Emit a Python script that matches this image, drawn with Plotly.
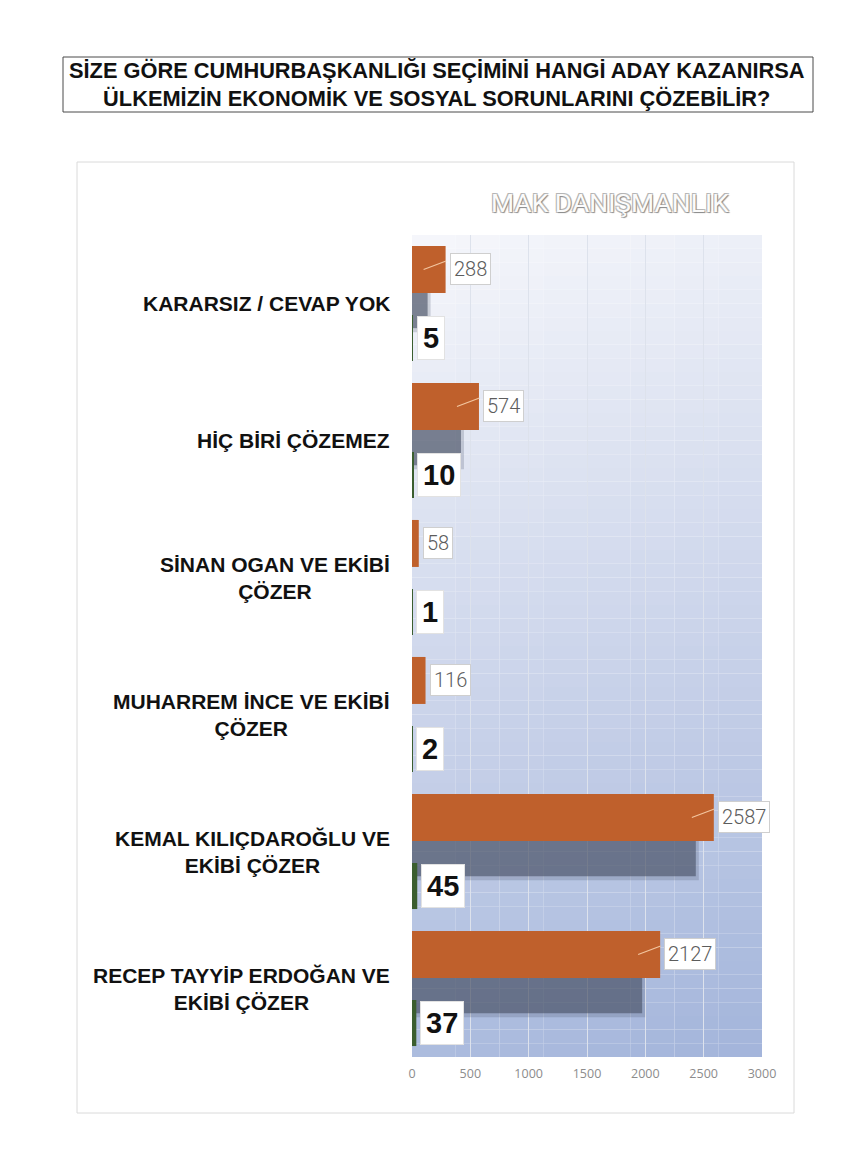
import plotly.graph_objects as go

# ---------------- data ----------------
categories = [
    "KARARSIZ / CEVAP YOK",
    "HİÇ BİRİ ÇÖZEMEZ",
    "SİNAN OGAN VE EKİBİ<br>ÇÖZER",
    "MUHARREM İNCE VE EKİBİ<br>ÇÖZER",
    "KEMAL KILIÇDAROĞLU VE<br>EKİBİ ÇÖZER",
    "RECEP TAYYİP ERDOĞAN VE<br>EKİBİ ÇÖZER",
]
counts = [288, 574, 58, 116, 2587, 2127]
percents = [5, 10, 1, 2, 45, 37]
x_ticks = [0, 500, 1000, 1500, 2000, 2500, 3000]

title_text = ("SİZE GÖRE CUMHURBAŞKANLIĞI SEÇİMİNİ HANGİ ADAY KAZANIRSA<br>"
              "ÜLKEMİZİN EKONOMİK VE SOSYAL SORUNLARINI ÇÖZEBİLİR?")
watermark = "MAK DANIŞMANLIK"

# ---------------- layout geometry (page has an 8px body margin) ----------------
PAGE_OFF = 8
W, H = 858 - PAGE_OFF, 1150 - PAGE_OFF
PLOT_L, PLOT_R, PLOT_T, PLOT_B = 412, 762, 235, 1057   # in window pixels
L = PLOT_L - PAGE_OFF
T = PLOT_T - PAGE_OFF
R = W - (PLOT_R - PAGE_OFF)
B = H - (PLOT_B - PAGE_OFF)
PW, PH = PLOT_R - PLOT_L, PLOT_B - PLOT_T
XMAX = 3000
UNITS_PER_PX = XMAX / PW


def px_x(p):
    return (p - PLOT_L) / PW


def px_y(p):
    return (PLOT_B - p) / PH


ORANGE = "#BF602C"
GREEN = "#3B5E2F"
NUMFONT = "Roboto, sans-serif"
BOLD = "Liberation Sans, Arial, sans-serif"

fig = go.Figure()

# soft shadow behind orange bars
shift = 15 * UNITS_PER_PX
fig.add_trace(go.Bar(
    x=[max(v - shift, 0) for v in counts], y=categories, orientation="h",
    width=0.38, offset=-0.17,
    marker=dict(color="rgba(70,78,98,0.22)", line=dict(width=0)),
    hoverinfo="skip", showlegend=False))
fig.add_trace(go.Bar(
    x=[max(v - shift - 3 * UNITS_PER_PX, 0) for v in counts], y=categories, orientation="h",
    width=0.33, offset=-0.15,
    marker=dict(color="rgba(70,78,98,0.6)", line=dict(width=0)),
    hoverinfo="skip", showlegend=False))

fig.add_trace(go.Bar(
    x=counts, y=categories, orientation="h", width=0.343, offset=-0.42,
    marker=dict(color=ORANGE, line=dict(width=0)), showlegend=False))
fig.add_trace(go.Bar(
    x=percents, y=categories, orientation="h", width=0.336, offset=0.084,
    marker=dict(color=GREEN, line=dict(width=0)), showlegend=False))

annotations = []
for i, (c, v, p) in enumerate(zip(categories, counts, percents)):
    yo = i - 0.2485
    yg = i + 0.252
    annotations.append(dict(
        x=v, y=yo, xref="x", yref="y", text=str(v), showarrow=False,
        xanchor="left", yanchor="middle", xshift=4,
        font=dict(family=NUMFONT, size=20, color="#5c5c5c", weight=300),
        bgcolor="white", bordercolor="#cfcfcf", borderwidth=1, borderpad=3))
    if v / UNITS_PER_PX > 30:
        annotations.append(dict(
            x=v, y=yo, xref="x", yref="y", text="", showarrow=True,
            xshift=-22, ax=24, ay=-9, arrowhead=0, arrowwidth=1.2,
            arrowcolor="#f3c6a0"))
    annotations.append(dict(
        x=p, y=yg, xref="x", yref="y", text=str(p), showarrow=False,
        xanchor="left", yanchor="middle", xshift=4,
        font=dict(family=BOLD, size=29, color="#111111", weight="bold"),
        bgcolor="white", bordercolor="#e2e2e2", borderwidth=1, borderpad=5))
    annotations.append(dict(
        x=0, y=i, xref="paper", yref="y", text=c, showarrow=False,
        xanchor="right", yanchor="middle", align="center", xshift=-20,
        font=dict(family=BOLD, size=21, color="#111111", weight="bold")))

annotations.append(dict(
    x=px_x(437), y=px_y(85), xref="paper", yref="paper", text=title_text,
    showarrow=False, xanchor="center", yanchor="middle", align="center",
    font=dict(family=BOLD, size=21.8, color="#111111", weight="bold")))
annotations.append(dict(
    x=px_x(610), y=px_y(202), xref="paper", yref="paper", text=watermark,
    showarrow=False, xanchor="center", yanchor="middle",
    font=dict(family="Roboto, sans-serif", size=26.5, color="#fbfbfb",
              shadow="1px 1px 1px #8a8a8a, -1px -1px 0px #b5b5b5, 1px -1px 0px #c0c0c0, -1px 1px 0px #c0c0c0")))

# gradient background for plot area
shapes = []
top = (246, 247, 251)
bot = (164, 181, 219)
ROWS, COLS = 60, 8
for r in range(ROWS):
    for cidx in range(COLS):
        v = (r + 0.5) / ROWS
        h = (cidx + 0.5) / COLS
        t = min(1.0, 0.9 * v + 0.12 * h)
        col = tuple(int(round(a + (b - a) * t)) for a, b in zip(top, bot))
        shapes.append(dict(
            type="rect", xref="paper", yref="paper", layer="below",
            x0=cidx / COLS, x1=(cidx + 1) / COLS,
            y0=1 - (r + 1) / ROWS, y1=1 - r / ROWS,
            fillcolor="rgb(%d,%d,%d)" % col, line=dict(width=0)))

# outer chart frame and title box
shapes.append(dict(type="rect", xref="paper", yref="paper", layer="below",
                   x0=px_x(77), x1=px_x(794), y0=px_y(1113), y1=px_y(162),
                   line=dict(color="#dadada", width=1), fillcolor="rgba(0,0,0,0)"))
shapes.append(dict(type="rect", xref="paper", yref="paper", layer="above",
                   x0=px_x(63), x1=px_x(813), y0=px_y(112), y1=px_y(57),
                   line=dict(color="#4a4a4a", width=1), fillcolor="rgba(0,0,0,0)"))

fig.update_layout(
    width=W, height=H,
    margin=dict(l=L, r=R, t=T, b=B, pad=0),
    paper_bgcolor="white", plot_bgcolor="rgba(0,0,0,0)",
    barmode="overlay", showlegend=False,
    annotations=annotations, shapes=shapes,
    xaxis=dict(range=[0, XMAX], tickvals=x_ticks, ticks="", showline=False,
               zeroline=False, showgrid=True, gridcolor="#dde2ec", gridwidth=1,
               tickfont=dict(family="Open Sans, sans-serif", size=12.5, color="#8c8c8c"),
               ticklabelstandoff=7, fixedrange=True),
    yaxis=dict(type="category", categoryorder="array", categoryarray=categories,
               range=[len(categories) - 0.5, -0.5], showticklabels=False,
               showgrid=False, zeroline=False, showline=False, ticks="",
               fixedrange=True),
)

fig.write_html("out.html")
